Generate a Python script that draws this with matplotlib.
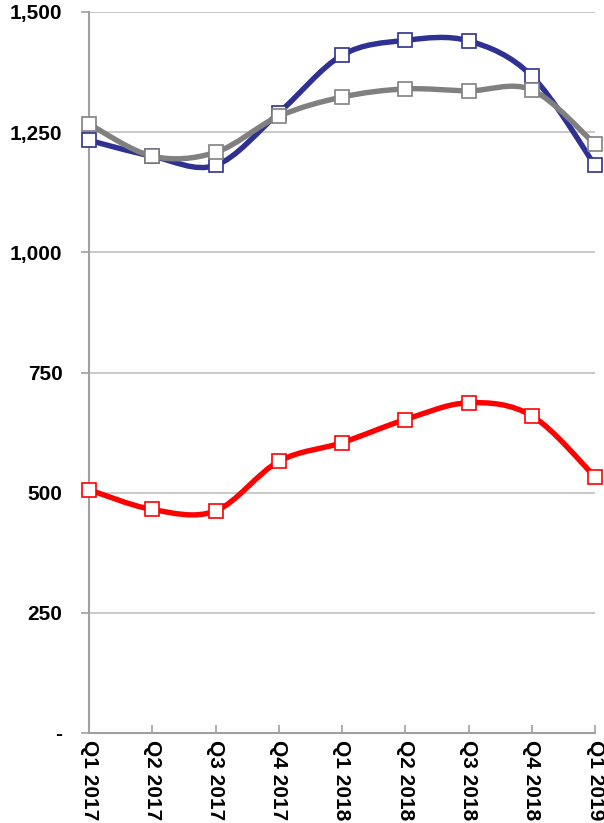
import numpy as np
import matplotlib
matplotlib.use("Agg")
import matplotlib.pyplot as plt
from matplotlib.path import Path
from matplotlib.patches import PathPatch
from matplotlib.ticker import FuncFormatter

quarters = ["Q1 2017", "Q2 2017", "Q3 2017", "Q4 2017", "Q1 2018",
            "Q2 2018", "Q3 2018", "Q4 2018", "Q1 2019"]
blue_vals = [1233, 1200, 1181, 1290, 1410, 1441, 1440, 1367, 1181]
gray_vals = [1267, 1200, 1208, 1283, 1323, 1340, 1336, 1338, 1225]
red_vals = [506, 465, 462, 565, 604, 652, 687, 660, 533]


def smooth_path(xs, ys):
    # Excel style smoothed line: cubic bezier with catmull-rom control points
    pts = np.column_stack([xs, ys]).astype(float)
    n = len(pts)
    verts = [pts[0]]
    codes = [Path.MOVETO]
    for i in range(n - 1):
        p0 = pts[i - 1] if i > 0 else pts[i]
        p1 = pts[i]
        p2 = pts[i + 1]
        p3 = pts[i + 2] if i + 2 < n else pts[i + 1]
        c1 = p1 + (p2 - p0) / 6.0
        c2 = p2 - (p3 - p1) / 6.0
        verts += [c1, c2, p2]
        codes += [Path.CURVE4] * 3
    return Path(verts, codes)


def main():
    plt.rcParams["font.family"] = ["Liberation Sans", "DejaVu Sans"]
    fig = plt.figure(figsize=(6.04, 8.23), dpi=100)
    ax = fig.add_axes([89 / 604, 1 - 733 / 823, (595 - 89) / 604, (733 - 12) / 823])

    x = np.arange(len(quarters))
    series = [(blue_vals, "#2E3192"), (gray_vals, "#808080"), (red_vals, "#FF0000")]
    z = 3
    for vals, color in series:
        patch = PathPatch(smooth_path(x, vals), facecolor="none", edgecolor=color,
                          lw=3.9, capstyle="round", joinstyle="round", zorder=z)
        ax.add_patch(patch)
        ax.plot(x, vals, linestyle="none", marker="s", markersize=9.5,
                markerfacecolor="white", markeredgecolor=color,
                markeredgewidth=1.2, zorder=z + 0.5, clip_on=False)
        z += 1

    ax.set_xlim(0, len(quarters) - 1)
    ax.set_ylim(0, 1500)
    ax.set_yticks(np.arange(0, 1501, 250))
    ax.yaxis.set_major_formatter(FuncFormatter(lambda v, p: "-" if v == 0 else "{:,.0f}".format(v)))
    ax.set_xticks(x)
    ax.set_xticklabels(quarters, rotation=270, fontweight="bold", fontsize=15, va="top", ha="center")
    for lab in ax.get_yticklabels():
        lab.set_fontweight("bold")
        lab.set_fontsize(15)

    ax.grid(axis="y", color="#C0C0C0", linewidth=1.2)
    ax.set_axisbelow(True)
    for side in ["top", "right"]:
        ax.spines[side].set_visible(False)
    for side in ["left", "bottom"]:
        ax.spines[side].set_color("#A0A0A0")
        ax.spines[side].set_linewidth(1.5)
    ax.tick_params(axis="y", direction="out", length=6, width=1.2, color="#A0A0A0", pad=13)
    ax.tick_params(axis="x", direction="in", length=6, width=1.2, color="#A0A0A0", pad=5)

    fig.savefig("out.png", dpi=100)


if __name__ == '__main__':
    main()
